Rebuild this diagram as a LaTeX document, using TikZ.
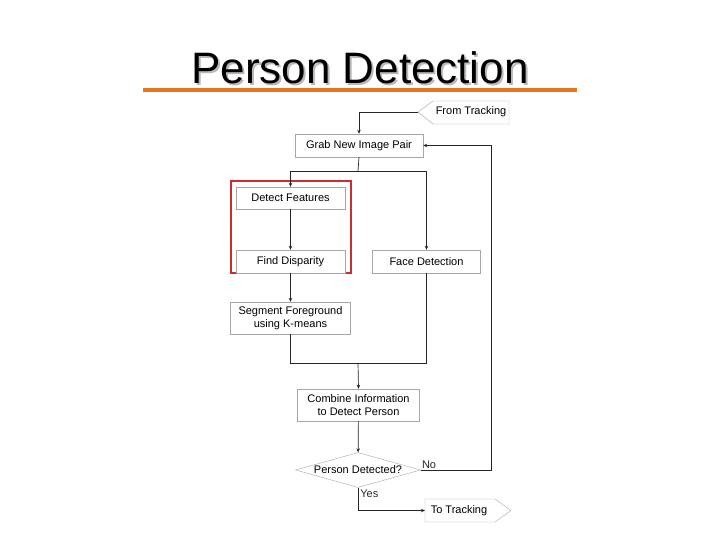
\documentclass[tikz,border=0pt]{standalone}
\usepackage{fontspec}
\setmainfont{Liberation Sans}
\usetikzlibrary{shapes.geometric,arrows.meta}
\definecolor{titleorange}{RGB}{232,118,33}
\definecolor{framered}{RGB}{205,45,45}
\begin{document}
\begin{tikzpicture}[x=1pt, y=-1pt, font=\fontsize{11}{12.5}\selectfont,
    >={Stealth[length=4pt,width=3.5pt]}]
    % Node styles
    \tikzstyle{step box}=[draw=gray!70, fill=white, inner sep=0pt, align=center]
    \tikzstyle{flow}=[line width=0.7pt, black!85]
    \tikzstyle{tag}=[draw=gray!70, line join=miter]

    \useasboundingbox (0,0) rectangle (720,540);

    % --- Title ---
    \node[font=\fontsize{44}{48}\selectfont, text=gray!55] at (362,70) {Person Detection};
    \node[font=\fontsize{44}{48}\selectfont] (title) at (360,68) {Person Detection};
    \draw[line width=4pt, titleorange] (143,90) -- (577,90);

    % --- Red frame round the stereo steps ---
    \draw[framered, line width=1.5pt] (231,181) rectangle (351,273);

    % --- Entry and exit tags ---
    \draw[tag] (418,112) -- (433,101) -- (509,101) -- (509,124) -- (433,124) -- cycle;
    \coordinate (from tip) at (418,112);
    \node (from) at (471,112) {From Tracking};

    \draw[tag] (425,499) -- (495,499) -- (511,510.5) -- (495,522) -- (425,522) -- cycle;
    \coordinate (to side) at (425,510.5);
    \node (to) at (459,511) {To Tracking};

    % --- Steps ---
    \node[step box, minimum width=128pt, minimum height=23pt] (grab) at (359,145.5) {Grab New Image Pair};

    % Stereo branch
    \node[step box, minimum width=109pt, minimum height=22pt] (detect) at (290.5,198) {Detect Features};
    \node[step box, minimum width=109pt, minimum height=23pt] (disparity) at (290.5,261.5) {Find Disparity};
    \node[step box, minimum width=120pt, minimum height=32pt] (segment) at (290.5,318) {Segment Foreground\\using K-means};

    % Face branch
    \node[step box, minimum width=108pt, minimum height=23pt] (face) at (426.5,261.5) {Face Detection};

    % Joining
    \node[step box, minimum width=122pt, minimum height=32pt] (combine) at (358.5,405) {Combine Information\\to Detect Person};
    \node[diamond, draw=gray!70, inner sep=0pt, aspect=3.6, minimum width=125pt, minimum height=35pt] (decision) at (358,470) {Person Detected?};

    % Helper coordinates
    \coordinate (split) at (358,171);
    \coordinate (merge) at (358,363);
    \coordinate (back) at (491,470);

    % --- Connectors ---
    \draw[flow, ->] (from tip) -| (grab.north);
    \draw[flow] (grab.south) -- (split);
    \draw[flow, ->] (split) -| (detect.north);
    \draw[flow, ->] (split) -| (face.north);
    \draw[flow, ->] (detect) -- (disparity);
    \draw[flow, ->] (disparity) -- (segment);
    \draw[flow] (segment.south) |- (merge);
    \draw[flow] (face.south) |- (merge);
    \draw[flow, ->] (merge) -- (combine.north);
    \draw[flow, ->] (combine) -- (decision);

    % Decision outcomes
    \draw[flow, ->] (decision.east) node[above right, inner sep=1pt] {No} -- (back) |- (grab.east);
    \draw[flow, ->] (decision.south) node[below right, inner sep=2pt] {Yes} |- (to side);

\end{tikzpicture}
\end{document}
